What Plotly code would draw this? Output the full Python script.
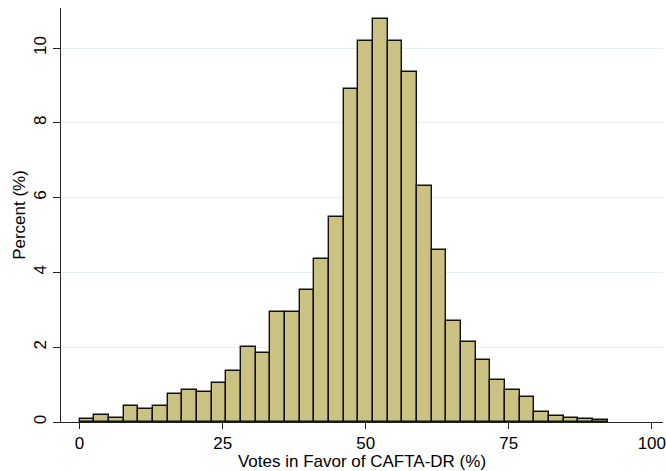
import plotly.graph_objects as go

# Histogram data: percent of observations per bin
bin_start = 0.0
bin_width = 2.564
percent = [0.08, 0.19, 0.11, 0.44, 0.36, 0.44, 0.75, 0.86, 0.80, 1.05,
           1.36, 2.00, 1.85, 2.94, 2.94, 3.53, 4.37, 5.49, 8.90, 10.20,
           10.78, 10.19, 9.37, 6.30, 4.59, 2.71, 2.15, 1.66, 1.11, 0.86,
           0.67, 0.28, 0.17, 0.11, 0.07, 0.045]
x_ticks = [0, 25, 50, 75, 100]
y_ticks = [0, 2, 4, 6, 8, 10]

centers = [bin_start + bin_width * (i + 0.5) for i in range(len(percent))]

fig = go.Figure()
fig.add_trace(go.Bar(
    x=centers, y=percent, width=bin_width,
    marker=dict(color="#C9C283", line=dict(color="#111111", width=1.4)),
    hoverinfo="x+y",
))

font = dict(family="Arial, Liberation Sans, sans-serif", size=17, color="#000000")

fig.update_layout(
    width=666, height=471,
    margin=dict(l=61, r=3, t=8, b=49, autoexpand=False),
    paper_bgcolor="white", plot_bgcolor="white",
    font=font,
    showlegend=False,
    bargap=0,
    xaxis=dict(
        range=[-3.25, 101.95], tickvals=x_ticks, ticktext=[str(v) for v in x_ticks],
        showline=True, linecolor="#222222", linewidth=1,
        ticks="outside", ticklen=6, tickcolor="#222222", tickwidth=1,
        ticklabeloverflow="allow",
        showgrid=False, zeroline=False,
        title=dict(text="Votes in Favor of CAFTA-DR (%)", standoff=0, font=font),
        tickfont=font,
    ),
    yaxis=dict(
        range=[0, 11.07], tickvals=y_ticks, ticktext=[str(v) for v in y_ticks],
        showline=True, linecolor="#222222", linewidth=1,
        ticks="outside", ticklen=7, tickcolor="#222222", tickwidth=1,
        tickangle=-90,
        showgrid=True, gridcolor="#E6EEF0", gridwidth=1,
        zeroline=False,
        title=dict(text="Percent (%)", standoff=1, font=font),
        tickfont=font,
    ),
)

fig.write_html("out.html",
               config={"displayModeBar": False},
               post_script="document.body.style.margin='0';document.body.style.overflow='hidden';")
